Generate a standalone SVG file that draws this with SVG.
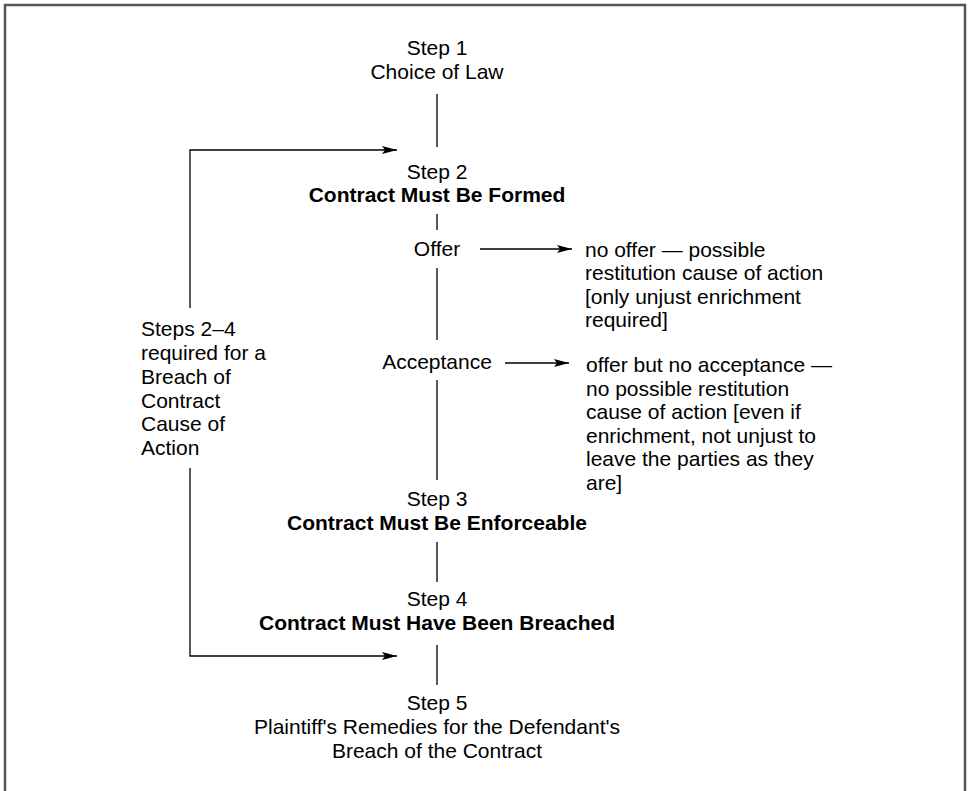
<svg xmlns="http://www.w3.org/2000/svg" width="969" height="791" viewBox="0 0 969 791">
<style>
text{font-family:"Liberation Sans",Arial,sans-serif;font-size:21px;fill:#000}
.c{text-anchor:middle}
.b{font-weight:bold}
.ln{stroke:#000;stroke-width:1.3;fill:none}
</style>
<defs>
<marker id="ah" markerWidth="16" markerHeight="8" refX="15" refY="4" orient="auto" markerUnits="userSpaceOnUse">
<path d="M0,0 L15,4 L0,8 L3,4 Z" fill="#000"/>
</marker>
</defs>
<rect x="0" y="0" width="969" height="791" fill="#fff"/>
<path d="M5,800 V5 H965 V800" fill="none" stroke="#555" stroke-width="2.5"/>
<g id="connectors">
<line class="ln" x1="437" y1="94" x2="437" y2="147"/>
<line class="ln" x1="437" y1="214" x2="437" y2="230"/>
<line class="ln" x1="437" y1="268" x2="437" y2="340"/>
<line class="ln" x1="437" y1="380" x2="437" y2="480"/>
<line class="ln" x1="437" y1="542" x2="437" y2="582"/>
<line class="ln" x1="437" y1="645" x2="437" y2="685"/>
<polyline class="ln" points="190,308 190,150 397,150" marker-end="url(#ah)"/>
<polyline class="ln" points="190,468 190,656 397,656" marker-end="url(#ah)"/>
<line class="ln" x1="480" y1="249" x2="572" y2="249" marker-end="url(#ah)"/>
<line class="ln" x1="505" y1="363" x2="569" y2="363" marker-end="url(#ah)"/>
</g>
<g id="step1"><text class="c" x="437" y="55">Step 1</text><text class="c" x="437" y="79">Choice of Law</text></g>
<g id="step2"><text class="c" x="437" y="179">Step 2</text><text class="c b" x="437" y="202">Contract Must Be Formed</text></g>
<g id="offer"><text class="c" x="437" y="256">Offer</text></g>
<g id="no-offer"><text x="585" y="257">no offer — possible</text><text x="585" y="280">restitution cause of action</text><text x="585" y="303.5">[only unjust enrichment</text><text x="585" y="327">required]</text></g>
<g id="acceptance"><text class="c" x="437" y="369">Acceptance</text></g>
<g id="no-acceptance"><text x="586" y="372">offer but no acceptance —</text><text x="586" y="395.5">no possible restitution</text><text x="586" y="419">cause of action [even if</text><text x="586" y="442.5">enrichment, not unjust to</text><text x="586" y="466">leave the parties as they</text><text x="586" y="489.5">are]</text></g>
<g id="steps-note"><text x="141" y="336">Steps 2–4</text><text x="141" y="360">required for a</text><text x="141" y="384">Breach of</text><text x="141" y="407.5">Contract</text><text x="141" y="431">Cause of</text><text x="141" y="455">Action</text></g>
<g id="step3"><text class="c" x="437" y="506">Step 3</text><text class="c b" x="437" y="530">Contract Must Be Enforceable</text></g>
<g id="step4"><text class="c" x="437" y="606">Step 4</text><text class="c b" x="437" y="630">Contract Must Have Been Breached</text></g>
<g id="step5"><text class="c" x="437" y="710">Step 5</text><text class="c" x="437" y="734">Plaintiff's Remedies for the Defendant's</text><text class="c" x="437" y="757.5">Breach of the Contract</text></g>
</svg>
